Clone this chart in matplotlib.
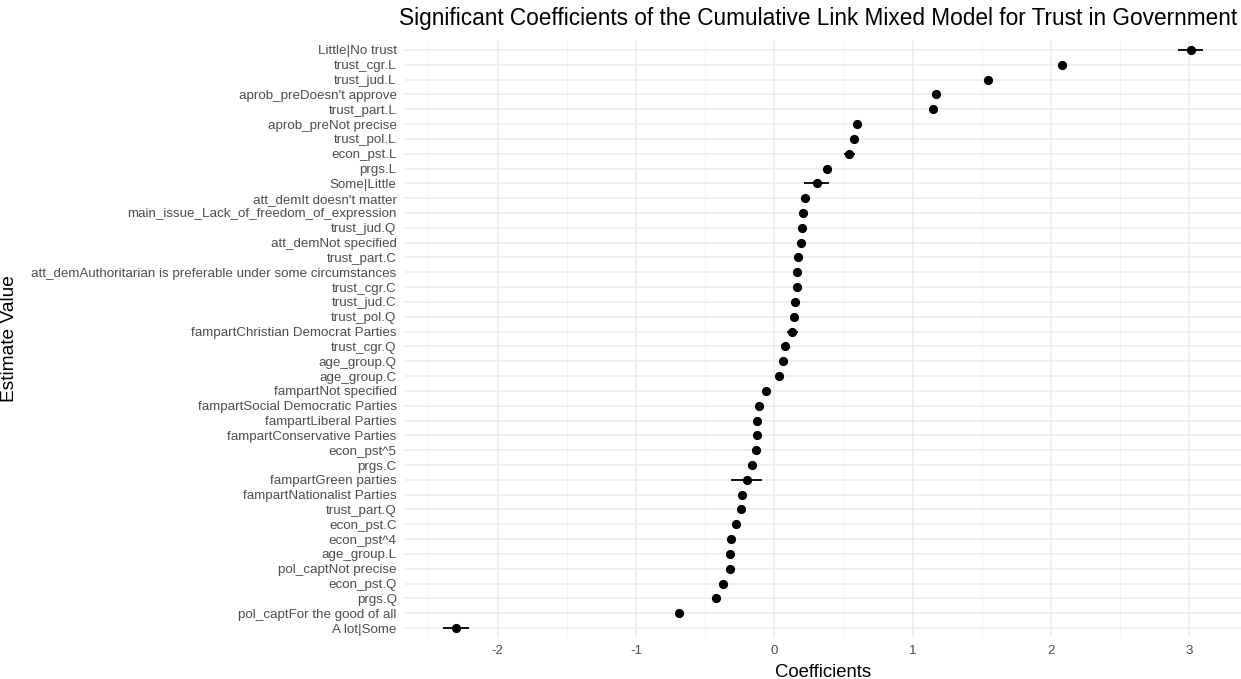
import matplotlib
matplotlib.use("Agg")
import matplotlib.pyplot as plt
import numpy as np

plt.rcParams['font.family'] = ['Liberation Sans', 'DejaVu Sans']

# Termes du modèle, du haut vers le bas
terms = [
    "Little|No trust", "trust_cgr.L", "trust_jud.L", "aprob_preDoesn't approve",
    "trust_part.L", "aprob_preNot precise", "trust_pol.L", "econ_pst.L", "prgs.L",
    "Some|Little", "att_demIt doesn't matter", "main_issue_Lack_of_freedom_of_expression",
    "trust_jud.Q", "att_demNot specified", "trust_part.C",
    "att_demAuthoritarian is preferable under some circumstances",
    "trust_cgr.C", "trust_jud.C", "trust_pol.Q", "fampartChristian Democrat Parties",
    "trust_cgr.Q", "age_group.Q", "age_group.C", "fampartNot specified",
    "fampartSocial Democratic Parties", "fampartLiberal Parties",
    "fampartConservative Parties", "econ_pst^5", "prgs.C", "fampartGreen parties",
    "fampartNationalist Parties", "trust_part.Q", "econ_pst.C", "econ_pst^4",
    "age_group.L", "pol_captNot precise", "econ_pst.Q", "prgs.Q",
    "pol_captFor the good of all", "A lot|Some",
]

estimate = [
    3.008, 2.08, 1.543, 1.167, 1.147, 0.60, 0.578, 0.543, 0.384, 0.306,
    0.225, 0.205, 0.198, 0.19, 0.17, 0.166, 0.163, 0.151, 0.143, 0.128,
    0.074, 0.062, 0.031, -0.062, -0.112, -0.128, -0.126, -0.136, -0.159, -0.20,
    -0.233, -0.24, -0.275, -0.31, -0.318, -0.318, -0.372, -0.419, -0.69, -2.30,
]

# demi-largeur de l'intervalle
err = [
    0.09, 0.02, 0.02, 0.02, 0.03, 0.02, 0.02, 0.04, 0.03, 0.09,
    0.02, 0.03, 0.02, 0.03, 0.02, 0.02, 0.02, 0.02, 0.02, 0.04,
    0.02, 0.02, 0.02, 0.02, 0.02, 0.02, 0.02, 0.02, 0.02, 0.11,
    0.02, 0.02, 0.02, 0.02, 0.02, 0.03, 0.03, 0.02, 0.02, 0.095,
]

est = np.array(estimate)
e = np.array(err)
n = len(terms)
ypos = np.arange(n)[::-1]

fig = plt.figure(figsize=(12.41, 6.79), dpi=100)
ax = fig.add_axes([405 / 1241, 42 / 679, 836 / 1241, 596 / 679])

# grille style theme_minimal
lo, hi = (est - e).min(), (est + e).max()
pad = 0.05 * (hi - lo)
ax.set_xlim(lo - pad, hi + pad)
ax.set_ylim(-0.6, n - 0.4)

major = np.arange(-2, 4)
minor = np.arange(-2.5, 3.5, 1.0)
for xv in major:
    ax.axvline(xv, color='#EBEBEB', lw=1.1, zorder=0)
for xv in minor:
    ax.axvline(xv, color='#F2F2F2', lw=0.6, zorder=0)
for yv in ypos:
    ax.axhline(yv, color='#EBEBEB', lw=1.1, zorder=0)

ax.hlines(ypos, est - e, est + e, color='black', lw=1.3, zorder=2)
ax.plot(est, ypos, 'o', color='black', ms=5.6, zorder=3)

ax.set_yticks(ypos)
ax.set_yticklabels(terms, fontsize=9.6, color='#4D4D4D')
ax.set_xticks(major)
ax.set_xticklabels([str(v) for v in major], fontsize=9.6, color='#4D4D4D')
ax.tick_params(length=0, pad=6)
for s in ax.spines.values():
    s.set_visible(False)

ax.set_xlabel("Coefficients", fontsize=13.3, color='black', labelpad=5)
ax.set_ylabel("Estimate Value", fontsize=13.8, color='black')
ax.yaxis.set_label_coords(-405 / 836 + 18 / 836, 0.5)

fig.text(1237 / 1241, 1 - 19 / 679,
         "Significant Coefficients of the Cumulative Link Mixed Model for Trust in Government",
         fontsize=16.3, ha='right', va='center', color='black')

fig.savefig("out.png", dpi=100, facecolor='white')
